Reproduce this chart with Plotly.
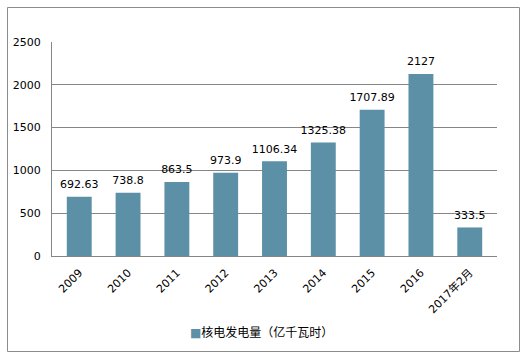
import plotly.graph_objects as go

categories = ["2009", "2010", "2011", "2012", "2013", "2014", "2015", "2016", "2017年2月"]
values = [692.63, 738.8, 863.5, 973.9, 1106.34, 1325.38, 1707.89, 2127, 333.5]
labels = ["692.63", "738.8", "863.5", "973.9", "1106.34", "1325.38", "1707.89", "2127", "333.5"]
series_name = "核电发电量（亿千瓦时）"
y_ticks = [0, 500, 1000, 1500, 2000, 2500]

font = "DejaVu Sans, Noto Sans CJK SC, sans-serif"
bar_color = "#5B90A6"

fig = go.Figure()
fig.add_trace(go.Bar(
    x=categories, y=values,
    marker=dict(color=bar_color, line=dict(width=0)),
    name=series_name, showlegend=False,
))
fig.add_trace(go.Scatter(
    x=categories, y=values, text=labels, mode="markers+text", textposition="top center",
    marker=dict(size=8, opacity=0), textfont=dict(size=11, color="#000000", family=font),
    showlegend=False, cliponaxis=False, hoverinfo="skip",
))

W, H = 527, 359
L, R, T, B = 52, 30, 42, 103
pw, ph = W - L - R, H - T - B

def px_x(x):
    return (x - L) / pw

def px_y(y):
    return (H - B - y) / ph

fig.add_shape(type="rect", xref="paper", yref="paper",
              x0=px_x(7.5), x1=px_x(519.5), y0=px_y(351.5), y1=px_y(7.5),
              line=dict(color="#8C8C8C", width=1), layer="below")

fig.add_annotation(
    xref="paper", yref="paper", x=px_x(261), y=px_y(332), xanchor="center", yanchor="middle",
    text=f"<span style='color:{bar_color}'>■</span>{series_name}", showarrow=False,
    font=dict(size=12, color="#000000", family=font),
)

fig.update_layout(
    width=W, height=H,
    margin=dict(l=L, r=R, t=T, b=B, autoexpand=False),
    paper_bgcolor="white", plot_bgcolor="white",
    font=dict(family=font, size=11, color="#000000"),
    bargap=0.49,
    showlegend=False,
    xaxis=dict(showgrid=False, showline=True, linecolor="#868686", linewidth=1,
               tickangle=-45, ticks="", tickfont=dict(size=11), fixedrange=True,
               automargin=False, ticklabelstandoff=5),
    yaxis=dict(range=[0, 2500], tickvals=y_ticks, showgrid=True, gridcolor="#868686",
               gridwidth=1, showline=True, linecolor="#868686", linewidth=1,
               ticks="", tickfont=dict(size=11), zeroline=False, fixedrange=True,
               automargin=False, ticklabelstandoff=8),
)

fig.write_html("out.html", config={"displayModeBar": False},
               post_script="document.body.style.margin='0';")
